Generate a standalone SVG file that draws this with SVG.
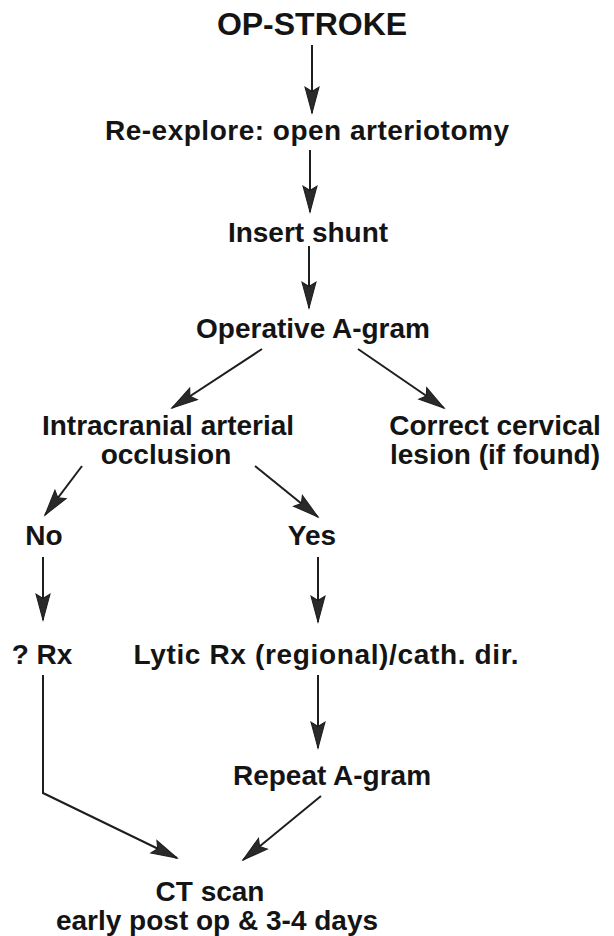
<svg xmlns="http://www.w3.org/2000/svg" width="614" height="936" viewBox="0 0 614 936">
<style>
  .t { font-family: "Liberation Sans", Arial, sans-serif; font-weight: bold; font-size: 28px; fill: #141414; text-anchor: middle; }
  .big { font-size: 32px; }
  .c { fill: none; stroke: #1e1e1e; stroke-width: 2; }
</style>
<defs>
  <marker id="ah" markerUnits="userSpaceOnUse" markerWidth="30" markerHeight="20" viewBox="-26 -8 28 16" refX="0" refY="0" orient="auto">
    <path d="M0,0 L-24,-6.5 L-20,0 L-24,6.5 Z" fill="#2a2a2a" stroke="#1e1e1e" stroke-width="1"/>
  </marker>
</defs>
<rect width="614" height="936" fill="#ffffff"/>
<g id="n-opstroke"><text class="t big" x="312" y="35">OP-STROKE</text></g>
<g id="n-reexplore"><text class="t" x="307" y="140" textLength="404" lengthAdjust="spacing">Re-explore: open arteriotomy</text></g>
<g id="n-shunt"><text class="t" x="308" y="242">Insert shunt</text></g>
<g id="n-agram"><text class="t" x="313" y="338">Operative A-gram</text></g>
<g id="n-intracranial"><text class="t" x="168" y="435">Intracranial arterial</text><text class="t" x="166" y="464">occlusion</text></g>
<g id="n-correct"><text class="t" x="495" y="435">Correct cervical</text><text class="t" x="495" y="464">lesion (if found)</text></g>
<g id="n-no"><text class="t" x="44" y="545">No</text></g>
<g id="n-yes"><text class="t" x="312" y="545">Yes</text></g>
<g id="n-rx"><text class="t" x="42" y="664">? Rx</text></g>
<g id="n-lytic"><text class="t" x="326" y="664" textLength="385" lengthAdjust="spacing">Lytic Rx (regional)/cath. dir.</text></g>
<g id="n-repeat"><text class="t" x="332" y="785">Repeat A-gram</text></g>
<g id="n-ct"><text class="t" x="210" y="901">CT scan</text><text class="t" x="217" y="930">early post op &amp; 3-4 days</text></g>
<g id="connectors" class="c">
  <line x1="312" y1="45" x2="312" y2="113" marker-end="url(#ah)"/>
  <line x1="310" y1="150" x2="310" y2="212" marker-end="url(#ah)"/>
  <line x1="309" y1="246" x2="309" y2="308" marker-end="url(#ah)"/>
  <line x1="262" y1="349" x2="172" y2="408" marker-end="url(#ah)"/>
  <line x1="358" y1="349" x2="444" y2="408" marker-end="url(#ah)"/>
  <line x1="82" y1="466" x2="45" y2="515" marker-end="url(#ah)"/>
  <line x1="255" y1="466" x2="318" y2="517" marker-end="url(#ah)"/>
  <line x1="43" y1="557" x2="43" y2="620" marker-end="url(#ah)"/>
  <line x1="318" y1="557" x2="318" y2="622" marker-end="url(#ah)"/>
  <polyline points="43,675 43,793 177,858" marker-end="url(#ah)"/>
  <line x1="318" y1="675" x2="318" y2="748" marker-end="url(#ah)"/>
  <line x1="321" y1="796" x2="243" y2="860" marker-end="url(#ah)"/>
</g>
</svg>
